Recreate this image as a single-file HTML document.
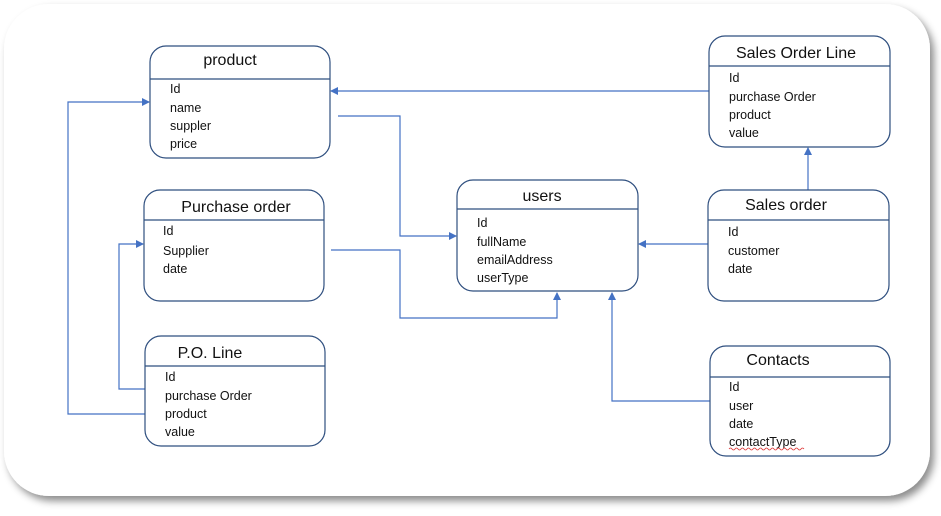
<!DOCTYPE html>
<html><head><meta charset="utf-8"><style>
html,body{margin:0;padding:0;background:#fff;}
svg{display:block;}
text{font-family:"Liberation Sans",sans-serif;fill:#111;}
.t{font-size:16px;text-anchor:middle;}
.f{font-size:12.5px;}
.b{fill:#fff;stroke:#2f4f7f;stroke-width:1.2;}
.c{fill:none;stroke:#4472c4;stroke-width:1.2;}
</style></head><body>
<svg width="941" height="516" viewBox="0 0 941 516">
<defs>
<filter id="sh" x="-5%" y="-5%" width="110%" height="115%"><feDropShadow dx="4" dy="5" stdDeviation="4" flood-color="#000" flood-opacity="0.45"/></filter>
<marker id="a" markerWidth="8" markerHeight="8" refX="7" refY="4" orient="auto" markerUnits="userSpaceOnUse"><path d="M0,0 L8,4 L0,8 z" fill="#4472c4"/></marker>
</defs>
<rect x="4" y="4" width="926" height="492" rx="45" fill="#fff" filter="url(#sh)"/>

<!-- connectors -->
<path class="c" d="M709,91 H331" marker-end="url(#a)"/>
<path class="c" d="M338,116 H400 V236 H456" marker-end="url(#a)"/>
<path class="c" d="M331,250 H400 V318 H557 V293" marker-end="url(#a)"/>
<path class="c" d="M708,244 H639" marker-end="url(#a)"/>
<path class="c" d="M808,190 V148" marker-end="url(#a)"/>
<path class="c" d="M710,401 H612 V293" marker-end="url(#a)"/>
<path class="c" d="M145,389 H119 V244 H143" marker-end="url(#a)"/>
<path class="c" d="M145,414 H68 V102 H149" marker-end="url(#a)"/>

<!-- product -->
<rect class="b" x="150" y="46" width="180" height="112" rx="16"/>
<line class="b" x1="150" y1="79" x2="330" y2="79"/>
<text class="t" x="230" y="65">product</text>
<text class="f" x="170" y="93">Id</text><text class="f" x="170" y="112">name</text><text class="f" x="170" y="130">suppler</text><text class="f" x="170" y="148">price</text>

<!-- Sales Order Line -->
<rect class="b" x="709" y="36" width="181" height="111" rx="16"/>
<line class="b" x1="709" y1="66" x2="890" y2="66"/>
<text class="t" x="796" y="58">Sales Order Line</text>
<text class="f" x="729" y="82">Id</text><text class="f" x="729" y="101">purchase Order</text><text class="f" x="729" y="119">product</text><text class="f" x="729" y="137">value</text>

<!-- Purchase order -->
<rect class="b" x="144" y="190" width="180" height="111" rx="16"/>
<line class="b" x1="144" y1="220" x2="324" y2="220"/>
<text class="t" x="236" y="212">Purchase order</text>
<text class="f" x="163" y="235">Id</text><text class="f" x="163" y="255">Supplier</text><text class="f" x="163" y="273">date</text>

<!-- users -->
<rect class="b" x="457" y="180" width="181" height="111" rx="16"/>
<line class="b" x1="457" y1="209" x2="638" y2="209"/>
<text class="t" x="542" y="201">users</text>
<text class="f" x="477" y="227">Id</text><text class="f" x="477" y="246">fullName</text><text class="f" x="477" y="264">emailAddress</text><text class="f" x="477" y="282">userType</text>

<!-- Sales order -->
<rect class="b" x="708" y="190" width="181" height="111" rx="16"/>
<line class="b" x1="708" y1="220" x2="889" y2="220"/>
<text class="t" x="786" y="210">Sales order</text>
<text class="f" x="728" y="236">Id</text><text class="f" x="728" y="255">customer</text><text class="f" x="728" y="273">date</text>

<!-- P.O. Line -->
<rect class="b" x="145" y="336" width="180" height="110" rx="16"/>
<line class="b" x1="145" y1="366" x2="325" y2="366"/>
<text class="t" x="210" y="358">P.O. Line</text>
<text class="f" x="165" y="381">Id</text><text class="f" x="165" y="400">purchase Order</text><text class="f" x="165" y="418">product</text><text class="f" x="165" y="436">value</text>

<!-- Contacts -->
<rect class="b" x="710" y="346" width="180" height="110" rx="16"/>
<line class="b" x1="710" y1="377" x2="890" y2="377"/>
<text class="t" x="778" y="365">Contacts</text>
<text class="f" x="729" y="391">Id</text><text class="f" x="729" y="410">user</text><text class="f" x="729" y="428">date</text><text class="f" x="729" y="446">contactType</text>
<path d="M729,449 q1.5,-2 3,0 t3,0 t3,0 t3,0 t3,0 t3,0 t3,0 t3,0 t3,0 t3,0 t3,0 t3,0 t3,0 t3,0 t3,0 t3,0 t3,0 t3,0 t3,0 t3,0 t3,0 t3,0 t3,0 t3,0 t3,0" fill="none" stroke="#d33" stroke-width="0.8"/>
</svg>
</body></html>
